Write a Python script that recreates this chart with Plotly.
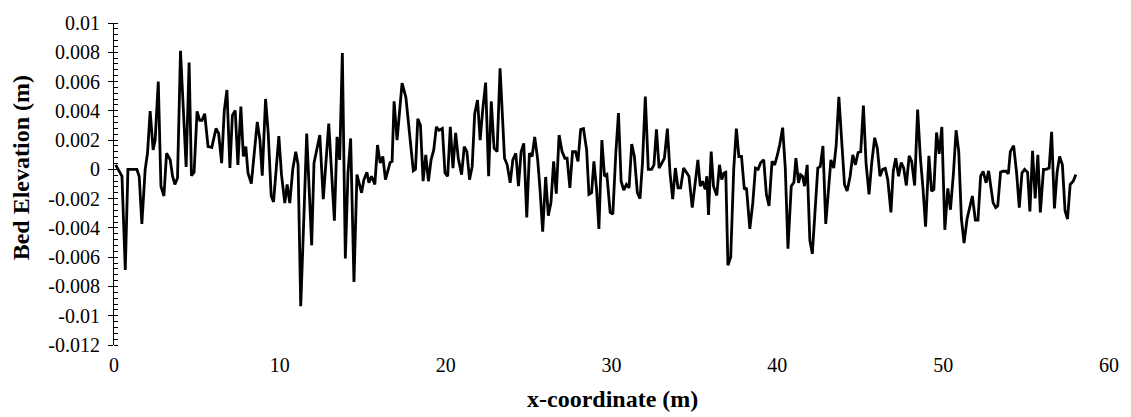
import plotly.graph_objects as go

# x-coordinate (m) of each measured point
x_coord = [
    0.1, 0.48, 0.68, 0.84, 1.38, 1.52, 1.68, 1.88, 2.02, 2.18, 2.36, 2.48, 2.67, 2.83, 3.01, 3.17,
    3.39, 3.53, 3.67, 3.83, 4.01, 4.35, 4.53, 4.67, 4.83, 5.01, 5.17, 5.31, 5.47, 5.67, 5.9,
    6.15, 6.31, 6.49, 6.65, 6.81, 6.99, 7.14, 7.31, 7.47, 7.65, 7.80, 7.95, 8.08, 8.28, 8.44, 8.64,
    8.80, 8.94, 9.14, 9.30, 9.48, 9.62, 9.78, 9.94, 10.10, 10.30, 10.44, 10.60, 10.78, 10.96, 11.10,
    11.26, 11.46, 11.62,
    11.92, 12.06, 12.41, 12.62, 12.95, 13.29, 13.45, 13.61, 13.77, 13.95, 14.11, 14.27, 14.47, 14.65,
    14.93, 15.07, 15.25, 15.37, 15.53, 15.73, 15.89, 16.05, 16.21, 16.37, 16.65, 16.77, 16.89, 17.07,
    17.37, 17.60,
    18.05, 18.18, 18.32, 18.48, 18.64, 18.80, 18.96, 19.12, 19.28, 19.44, 19.60, 19.80, 19.96, 20.12,
    20.28, 20.44, 20.60, 20.76, 20.96, 21.12, 21.28, 21.44, 21.60, 21.75, 21.92, 22.08, 22.23, 22.41,
    22.59, 22.75, 22.92, 23.10, 23.28,
    23.55, 23.71, 23.89, 24.05, 24.23, 24.39, 24.55, 24.71, 24.89, 25.05, 25.21, 25.37, 25.55, 25.69,
    25.85, 26.03, 26.19, 26.35, 26.51, 26.67, 26.84, 27.02, 27.19, 27.32, 27.49, 27.65, 27.83, 27.98,
    28.14, 28.31, 28.50, 28.64, 28.80, 28.94, 29.10, 29.24,
    29.42, 29.58, 29.72, 29.92, 30.08, 30.26, 30.42, 30.58, 30.74, 30.90, 31.06, 31.22, 31.38, 31.56,
    31.72, 31.87, 32.04, 32.22, 32.42, 32.56, 32.71, 32.87, 33.04, 33.19, 33.37, 33.53, 33.69, 33.85,
    34.01, 34.17, 34.35, 34.51, 34.67, 34.87, 35.01, 35.21,
    35.35, 35.49, 35.65, 35.75, 35.85, 36.01, 36.15, 36.35, 36.51, 36.65, 36.78, 36.89, 37.02, 37.19,
    37.37, 37.53, 37.68, 37.84, 38.01, 38.14, 38.34, 38.52, 38.68, 38.84, 39.0, 39.18, 39.34, 39.50,
    39.68, 39.84, 39.98, 40.14, 40.32, 40.48, 40.64, 40.84,
    41.0, 41.12, 41.28, 41.40, 41.52, 41.64, 41.80, 41.96, 42.11, 42.28, 42.44, 42.59, 42.75, 42.92,
    43.07, 43.23, 43.40, 43.55, 43.71, 43.87, 44.05, 44.21, 44.39, 44.55, 44.71, 44.87, 45.03, 45.19,
    45.35, 45.53, 45.69, 45.87, 46.03, 46.19, 46.35, 46.51, 46.66, 46.85,
    46.99, 47.14, 47.31, 47.47, 47.62, 47.78, 47.95, 48.10, 48.28, 48.46, 48.62, 48.78, 48.94, 49.14,
    49.30, 49.44, 49.60, 49.76, 49.92, 50.10, 50.28, 50.44, 50.62, 50.78, 50.94, 51.10, 51.26, 51.44,
    51.60, 51.76, 51.94, 52.10, 52.26, 52.41, 52.59, 52.74,
    53.01, 53.17, 53.29, 53.46, 53.61, 53.79, 53.93, 54.05, 54.25, 54.43, 54.59, 54.75, 54.91, 55.09,
    55.23, 55.39, 55.55, 55.71, 55.86, 56.05, 56.21, 56.39, 56.54, 56.71, 56.87, 57.02, 57.19, 57.35,
    57.50, 57.66, 57.84, 58.0,
]

# bed elevation (m) at each point
bed_elevation = [
    0.00031, -0.00047, -0.00688, 0.0, 0.0, -0.00049, -0.00373, 0.0, 0.0011, 0.00398, 0.00133, 0.002,
    0.006, -0.00115, -0.00182, 0.0011, 0.00065, -0.00047, -0.00103, -0.00058, 0.0081, 0.00016, 0.0073,
    -0.00043, -0.0002, 0.00396, 0.00335, 0.00335, 0.0038, 0.00155, 0.0015,
    0.00279, 0.00245, 0.00043, 0.00402, 0.00542, 0.00009, 0.00369, 0.00402, 0.00031, 0.00429, 0.00088,
    0.00155, -0.00025, -0.00097, 0.0011, 0.00324, 0.002, -0.00043, 0.00481, 0.00245, -0.00182,
    -0.00222, 0.0, 0.00227, -0.00036, -0.00231, -0.00103, -0.00231, 0.0, 0.00121, 0.00031, -0.00935,
    -0.00294, 0.00245,
    -0.00519, 0.00043, 0.00234, -0.00204, 0.00312, -0.00351, 0.00222, 0.00065, 0.00795, -0.00609,
    -0.00025, 0.00211, -0.0077, -0.00036, -0.0016, -0.0007, -0.0002, -0.00092, -0.00047, -0.00103,
    0.00166, 0.00043, 0.00088, -0.0007, 0.00047, 0.00054, 0.00465, 0.002, 0.0059, 0.00492,
    -0.0001, 0.0, 0.00346, 0.00301, -0.00081, 0.00099, -0.00081, 0.00065, 0.00133, 0.0029, 0.00267,
    0.00279, -0.00025, -0.00047, 0.0029, 0.00009, 0.00249, 0.00076, -0.00036, 0.00155, 0.00121,
    -0.0007, 0.0002, 0.0038, 0.00474, 0.002, 0.00402, 0.00593, -0.00047, 0.00465, 0.00144, 0.00121,
    0.0069,
    0.00076, 0.00031, -0.00092, 0.00065, 0.0011, -0.00115, 0.00121, 0.00178, -0.00328, 0.0011, 0.00088,
    0.00222, 0.00065, -0.00137, -0.00425, -0.00052, -0.00317, -0.00227, 0.00054, -0.00166, 0.00234,
    0.00121, 0.00076, 0.00076, -0.00126, 0.00121, 0.00121, 0.00054, 0.00272, 0.00279, 0.00133,
    -0.00171, -0.0016, 0.00054, -0.00137, -0.00407,
    0.002, -0.00047, -0.00036, -0.00294, -0.00306, 0.0011, 0.00384, -0.00081, -0.00142, -0.00103,
    -0.00126, 0.00173, 0.00088, -0.0016, -0.002, 0.00047, 0.00497, 0.0, 0.0, 0.00031, 0.00274, 0.00009,
    0.00043, 0.00076, 0.00279, -0.00025, -0.00204, 0.00009, -0.00126, -0.00126, 0.00009, -0.0002,
    -0.00047, -0.00261, -0.00137, 0.00065,
    -0.00115, -0.00081, -0.00137, -0.00047, -0.00312, 0.00121, -0.00115, -0.00178, 0.00031, -0.0007,
    -0.00025, -0.0002, -0.00655, -0.00598, 0.0, 0.00279, 0.00088, 0.00088, -0.00137, -0.00126,
    -0.00407, -0.00229, 0.00009, 0.0, 0.00047, 0.00065, -0.00171, -0.00249, 0.00054, 0.00031, 0.00088,
    0.00166, 0.00285, 0.00009, -0.00542, -0.00115,
    -0.00088, 0.00076, -0.00092, -0.00036, -0.00047, -0.00115, 0.00031, -0.00485, -0.00577, -0.00294,
    0.00009, 0.0002, 0.0016, -0.00373, -0.00137, 0.00065, 0.00009, 0.00166, 0.00495, 0.002, -0.00103,
    -0.00148, -0.00047, 0.00099, 0.00031, 0.00115, 0.00121, 0.00436, 0.00043, -0.00171, 0.00043,
    0.00216, 0.00144, -0.00047, 0.0, 0.00007, -0.0007, -0.00294,
    -0.00013, 0.00076, -0.00047, 0.00047, 0.00009, -0.0011, 0.00092, 0.00054, -0.0011, 0.00409,
    0.00088, -0.00126, -0.00391, 0.00092, -0.00148, -0.00137, 0.00252, 0.00106, 0.0029, -0.00413,
    -0.0013, -0.00276, -0.00025, 0.00267, 0.00121, -0.00339, -0.00503, -0.00339, -0.00249, -0.00182,
    -0.00346, -0.00346, -0.00047, -0.00013, -0.00092, -0.0001,
    -0.00227, -0.00261, -0.00249, -0.0002, -0.00013, -0.00013, -0.00031, 0.00121, 0.00162, -0.00025,
    -0.00261, -0.00025, 0.0, -0.0002, -0.00288, 0.00126, -0.00198, 0.00099, -0.00294, 0.0, 0.0,
    0.00009, 0.00256, -0.00267, -0.0002, 0.00088, 0.00031, -0.00283, -0.00339, -0.00103, -0.00081,
    -0.00036,
]

x_tick_vals = [0, 10, 20, 30, 40, 50, 60]
y_tick_vals = [0.01, 0.008, 0.006, 0.004, 0.002, 0, -0.002, -0.004, -0.006, -0.008, -0.01, -0.012]
y_tick_text = ["0.01", "0.008", "0.006", "0.004", "0.002", "0", "-0.002", "-0.004", "-0.006",
               "-0.008", "-0.01", "-0.012"]

x_title = "x-coordinate (m)"
y_title = "Bed Elevation (m)"

FONT = "Liberation Serif"
X_RANGE = [0, 60]
Y_RANGE = [-0.012, 0.01]

fig = go.Figure()
fig.add_trace(go.Scatter(
    x=x_coord, y=bed_elevation, mode="lines",
    line=dict(color="black", width=2.8),
    showlegend=False, hoverinfo="skip",
))

zero_pos = (0 - Y_RANGE[0]) / (Y_RANGE[1] - Y_RANGE[0])

fig.update_layout(
    width=1131, height=417,
    margin=dict(l=114, r=15, t=18, b=72),
    paper_bgcolor="white", plot_bgcolor="white",
    font=dict(family=FONT, color="black", size=20),
    xaxis=dict(
        range=X_RANGE, tickmode="array", tickvals=x_tick_vals,
        showline=False, ticks="", showgrid=False, zeroline=False,
        tickfont=dict(family=FONT, size=20, color="black"),
        ticklabelstandoff=6,
    ),
    xaxis2=dict(
        range=X_RANGE, overlaying="x", anchor="free", position=zero_pos,
        showline=True, linecolor="black", linewidth=1,
        tickmode="linear", tick0=0, dtick=10, ticks="outside", ticklen=5,
        tickcolor="black", showticklabels=False, showgrid=False, zeroline=False,
        minor=dict(tickmode="linear", tick0=0, dtick=2, ticks="outside", ticklen=3,
                   tickcolor="black", showgrid=False),
    ),
    yaxis=dict(
        range=Y_RANGE, tickmode="array", tickvals=y_tick_vals, ticktext=y_tick_text,
        showline=True, linecolor="black", linewidth=1,
        ticks="outside", ticklen=5, tickcolor="black",
        showgrid=False, zeroline=False,
        tickfont=dict(family=FONT, size=20, color="black"),
        ticklabelstandoff=4,
        minor=dict(tickmode="linear", tick0=-0.012, dtick=0.0004, ticks="inside",
                   ticklen=4, tickcolor="black", showgrid=False),
    ),
    yaxis2=dict(
        range=Y_RANGE, overlaying="y", anchor="x", side="left",
        tickmode="array", tickvals=y_tick_vals, ticks="inside", ticklen=5,
        tickcolor="black", showticklabels=False, showline=False,
        showgrid=False, zeroline=False,
    ),
    annotations=[
        dict(text="<b>" + y_title + "</b>", xref="paper", yref="paper",
             x=-0.094, y=0.55, xanchor="center", yanchor="middle", textangle=-90,
             showarrow=False, font=dict(family=FONT, size=24, color="black")),
        dict(text="<b>" + x_title + "</b>", xref="paper", yref="paper",
             x=0.501, y=-0.168, xanchor="center", yanchor="middle",
             showarrow=False, font=dict(family=FONT, size=24, color="black")),
    ],
)

fig.write_html(
    "out.html",
    config={"displayModeBar": False},
    post_script="document.body.style.margin='0';document.body.style.overflow='hidden';",
)
